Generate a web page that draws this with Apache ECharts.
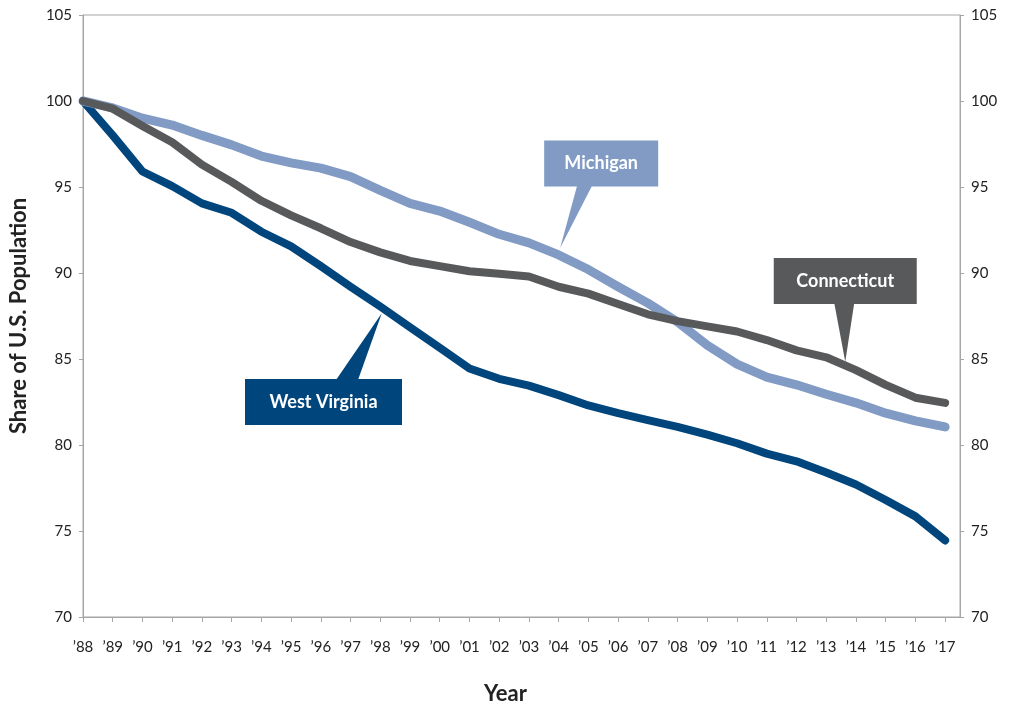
<!DOCTYPE html>
<html>
<head>
<meta charset="utf-8">
<script src="https://cdn.jsdelivr.net/npm/echarts@6/dist/echarts.min.js"></script>
<style>
html,body{margin:0;padding:0;background:#fff;}
#chart{width:1015px;height:703px;}
</style>
</head>
<body>
<div id="chart"></div>
<script>
var years = [1988,1989,1990,1991,1992,1993,1994,1995,1996,1997,1998,1999,2000,2001,2002,2003,2004,2005,2006,2007,2008,2009,2010,2011,2012,2013,2014,2015,2016,2017];
var westVirginia = [100,98.0,95.9,95.05,94.05,93.5,92.4,91.55,90.4,89.2,88.05,86.85,85.65,84.45,83.85,83.45,82.9,82.3,81.85,81.45,81.05,80.6,80.1,79.5,79.05,78.4,77.7,76.8,75.85,74.45];
var michigan = [100,99.6,99.0,98.6,98.0,97.45,96.8,96.4,96.1,95.6,94.8,94.05,93.6,92.95,92.25,91.75,91.05,90.2,89.2,88.25,87.15,85.8,84.7,83.95,83.5,82.95,82.45,81.85,81.4,81.05];
var connecticut = [100,99.55,98.55,97.6,96.3,95.3,94.2,93.35,92.6,91.8,91.2,90.7,90.4,90.1,89.95,89.8,89.2,88.8,88.2,87.6,87.2,86.9,86.6,86.1,85.5,85.1,84.35,83.5,82.75,82.45];

var COL_WV = '#00457c', COL_MI = '#819bc4', COL_CT = '#58595b';
var FONT = 'Lato';

function pairs(vals){ return years.map(function(y,i){ return [y, vals[i]]; }); }

var chart = echarts.init(document.getElementById('chart'), null, {width:1015, height:703});
var axisGray = '#a6a6a6';
var yAxisBase = {
  type:'value', min:70, max:105, interval:5,
  axisLine:{show:true, lineStyle:{color:axisGray, width:1}},
  axisTick:{show:true, length:4, lineStyle:{color:axisGray}},
  splitLine:{show:false},
  axisLabel:{color:'#222', fontSize:15, fontFamily:FONT, margin:11}
};
chart.setOption({
  animation:false,
  grid:{left:83, width:877, top:15, height:602, show:true, borderColor:axisGray, borderWidth:1, containLabel:false, outerBoundsMode:'none'},
  xAxis:{
    type:'value', min:1988, max:2017.5, interval:1,
    name:'Year', nameLocation:'middle', nameGap:66,
    nameTextStyle:{fontSize:22, fontWeight:'bold', color:'#222', fontFamily:FONT, padding:[0,32,0,0]},
    axisLine:{show:true, lineStyle:{color:axisGray, width:1}},
    axisTick:{show:true, length:5, lineStyle:{color:axisGray}, customValues:years},
    splitLine:{show:false},
    axisLabel:{color:'#222', fontSize:15, fontFamily:FONT, margin:23, customValues:years,
      formatter:function(v){ return '\u2019' + String(v).slice(2); }}
  },
  yAxis:[
    Object.assign({}, yAxisBase, {position:'left',
      name:'Share of U.S. Population', nameLocation:'middle', nameGap:53,
      nameTextStyle:{fontSize:22, fontWeight:'bold', color:'#222', fontFamily:FONT}}),
    Object.assign({}, yAxisBase, {position:'right'})
  ],
  series:[
    {type:'line', name:'West Virginia', data:pairs(westVirginia), symbol:'none', lineStyle:{color:COL_WV, width:8, cap:'round', join:'round'}, z:2},
    {type:'line', name:'Michigan', data:pairs(michigan), symbol:'none', lineStyle:{color:COL_MI, width:9, cap:'round', join:'round'}, z:3},
    {type:'line', name:'Connecticut', data:pairs(connecticut), symbol:'none', lineStyle:{color:COL_CT, width:8, cap:'round', join:'round'}, z:4}
  ]
});

// Callouts anchored in data coordinates
var callouts = [
  {text:'Michigan', color:COL_MI, box:[2005.43, 96.37], w:114, h:46, tip:[2004.05, 91.45], side:'bottom', base:[-24,-9]},
  {text:'Connecticut', color:COL_CT, box:[2013.64, 89.53], w:143, h:46, tip:[2013.64, 84.84], side:'bottom', base:[-11,9]},
  {text:'West Virginia', color:COL_WV, box:[1996.09, 82.5], w:157, h:46, tip:[1998.05, 87.66], side:'top', base:[12.5,34.5]}
];
var gfx = [];
callouts.forEach(function(c){
  var p = chart.convertToPixel({xAxisIndex:0, yAxisIndex:0}, c.box);
  var t = chart.convertToPixel({xAxisIndex:0, yAxisIndex:0}, c.tip);
  var edgeY = c.side === 'bottom' ? p[1] + c.h/2 - 1 : p[1] - c.h/2 + 1;
  gfx.push({type:'polygon', z:100, shape:{points:[[p[0]+c.base[0], edgeY],[p[0]+c.base[1], edgeY],[t[0], t[1]]]}, style:{fill:c.color}});
  gfx.push({type:'rect', z:100, shape:{x:p[0]-c.w/2, y:p[1]-c.h/2, width:c.w, height:c.h}, style:{fill:c.color}});
  gfx.push({type:'text', z:101, style:{text:c.text, x:p[0], y:p[1], align:'center', verticalAlign:'middle', fill:'#fff', font:'bold 18px ' + FONT}});
});
chart.setOption({graphic:gfx});
</script>
</body>
</html>
